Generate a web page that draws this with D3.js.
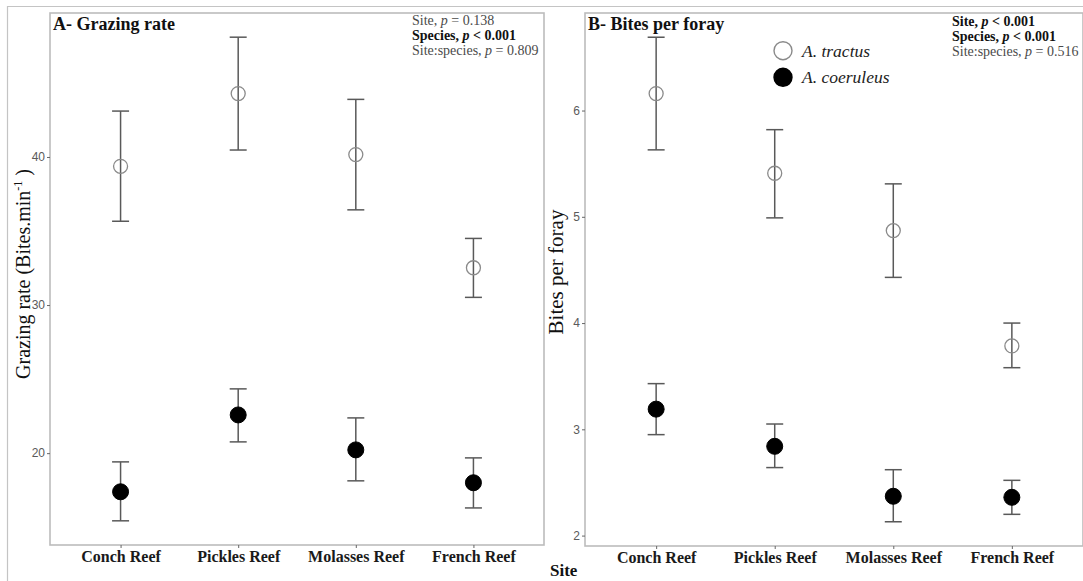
<!DOCTYPE html>
<html>
<head>
<meta charset="utf-8">
<script src="https://cdn.jsdelivr.net/npm/d3@7/dist/d3.min.js"></script>
<style>
  html, body { margin: 0; padding: 0; background: #fff; }
  svg { display: block; }
</style>
</head>
<body>
<svg id="chart" width="1083" height="581"></svg>
<script>
// Sites along the x axis
const sites = ["Conch Reef", "Pickles Reef", "Molasses Reef", "French Reef"];

// Grazing rate (bites per minute): mean, lower and upper bound of the error bar
const grazeTractusMean  = [39.37, 44.28, 40.16, 32.52];
const grazeTractusLow   = [35.66, 40.47, 36.43, 30.52];
const grazeTractusHigh  = [43.10, 48.09, 43.89, 34.50];
const grazeCoerMean     = [17.39, 22.58, 20.22, 18.00];
const grazeCoerLow      = [15.43, 20.76, 18.13, 16.30];
const grazeCoerHigh     = [19.41, 24.34, 22.38, 19.68];

// Bites per foray: mean, lower and upper bound of the error bar
const forayTractusMean  = [6.16, 5.41, 4.87, 3.785];
const forayTractusLow   = [5.63, 4.99, 4.43, 3.58];
const forayTractusHigh  = [6.69, 5.82, 5.31, 4.00];
const forayCoerMean     = [3.19, 2.84, 2.37, 2.36];
const forayCoerLow      = [2.95, 2.64, 2.13, 2.20];
const forayCoerHigh     = [3.43, 3.05, 2.62, 2.52];

const grazeTicks = [20, 30, 40];
const forayTicks = [2, 3, 4, 5, 6];

const speciesNames = ["A. tractus", "A. coeruleus"];

const statsGraze = [
  { label: "Site", op: "= 0.138", bold: false },
  { label: "Species", op: "< 0.001", bold: true },
  { label: "Site:species", op: "= 0.809", bold: false }
];
const statsForay = [
  { label: "Site", op: "< 0.001", bold: true },
  { label: "Species", op: "< 0.001", bold: true },
  { label: "Site:species", op: "= 0.516", bold: false }
];

const svg = d3.select("#chart");
const SERIF = "'Liberation Serif', 'Times New Roman', serif";
const SANS = "'Liberation Sans', Arial, sans-serif";

// Outer frame lines of the figure
svg.append("line").attr("x1", 7).attr("x2", 1083).attr("y1", 6.5).attr("y2", 6.5)
  .attr("stroke", "#c4c4c4").attr("stroke-width", 1.2);
svg.append("line").attr("x1", 7.5).attr("x2", 7.5).attr("y1", 6).attr("y2", 581)
  .attr("stroke", "#c4c4c4").attr("stroke-width", 1.2);

// Data range widened by 5% on each side
function expanded(lo, hi) {
  const mn = d3.min(lo), mx = d3.max(hi), pad = (mx - mn) * 0.05;
  return [mn - pad, mx + pad];
}

function panel(opts) {
  const { left, right, top, bottom } = opts;
  const x = d3.scalePoint().domain(sites).range([left, right]).padding(0.6);
  const y = d3.scaleLinear()
    .domain(expanded(opts.lowAll, opts.highAll))
    .range([bottom, top]);

  const g = svg.append("g");

  // Panel border
  g.append("rect")
    .attr("x", left).attr("y", top)
    .attr("width", right - left).attr("height", bottom - top)
    .attr("fill", "none").attr("stroke", "#bcbcbc").attr("stroke-width", 1.6);

  // Y axis
  const yAxis = d3.axisLeft(y).tickValues(opts.ticks).tickSize(3).tickPadding(2)
    .tickFormat(d3.format("d"));
  const ya = g.append("g").attr("transform", `translate(${left},0)`).call(yAxis);
  ya.select(".domain").remove();
  ya.selectAll(".tick line").attr("stroke", "#666").attr("stroke-width", 1);
  ya.selectAll(".tick text").attr("font-family", SANS).attr("font-size", 12)
    .attr("fill", "#5a5a5a");

  // X axis
  const xAxis = d3.axisBottom(x).tickSize(3).tickPadding(3);
  const xa = g.append("g").attr("transform", `translate(0,${bottom})`).call(xAxis);
  xa.select(".domain").remove();
  xa.selectAll(".tick line").attr("stroke", "#666").attr("stroke-width", 1);
  xa.selectAll(".tick text").attr("font-family", SERIF).attr("font-size", 16)
    .attr("font-weight", "bold").attr("fill", "#1a1a1a");

  // Error bars and points for each species
  const series = [
    { mean: opts.tMean, low: opts.tLow, high: opts.tHigh, open: true },
    { mean: opts.cMean, low: opts.cLow, high: opts.cHigh, open: false }
  ];
  const cap = 8.5;
  series.forEach(s => {
    const rows = sites.map((site, i) => ({ site, m: s.mean[i], lo: s.low[i], hi: s.high[i] }));
    const eb = g.append("g").attr("stroke", "#595959").attr("stroke-width", 1.5);
    eb.selectAll(null).data(rows).join("line")
      .attr("x1", d => x(d.site)).attr("x2", d => x(d.site))
      .attr("y1", d => y(d.lo)).attr("y2", d => y(d.hi));
    eb.selectAll(null).data(rows).join("line")
      .attr("x1", d => x(d.site) - cap).attr("x2", d => x(d.site) + cap)
      .attr("y1", d => y(d.hi)).attr("y2", d => y(d.hi));
    eb.selectAll(null).data(rows).join("line")
      .attr("x1", d => x(d.site) - cap).attr("x2", d => x(d.site) + cap)
      .attr("y1", d => y(d.lo)).attr("y2", d => y(d.lo));
    g.selectAll(null).data(rows).join("circle")
      .attr("cx", d => x(d.site)).attr("cy", d => y(d.m))
      .attr("r", s.open ? 7 : 8)
      .attr("fill", s.open ? "none" : "#000")
      .attr("stroke", s.open ? "#8a8a8a" : "#000")
      .attr("stroke-width", s.open ? 1.3 : 1);
  });

  // Panel title
  g.append("text").attr("x", left + 3).attr("y", top + 17)
    .attr("font-family", SERIF).attr("font-weight", "bold").attr("font-size", 18)
    .attr("fill", "#111").text(opts.title);

  // Model statistics
  const st = g.append("g");
  opts.stats.forEach((s, i) => {
    const t = st.append("text").attr("x", opts.statsX).attr("y", opts.statsY + i * 15)
      .attr("font-family", SERIF).attr("font-size", 14)
      .attr("font-weight", s.bold ? "bold" : "normal")
      .attr("fill", s.bold ? "#111" : "#4a4a4a");
    t.append("tspan").text(s.label + ", ");
    t.append("tspan").attr("font-style", "italic").text("p");
    t.append("tspan").text(" " + s.op);
  });

  return { x, y };
}

panel({
  left: 50, right: 544, top: 13, bottom: 545,
  ticks: grazeTicks, title: "A- Grazing rate",
  tMean: grazeTractusMean, tLow: grazeTractusLow, tHigh: grazeTractusHigh,
  cMean: grazeCoerMean, cLow: grazeCoerLow, cHigh: grazeCoerHigh,
  lowAll: grazeTractusLow.concat(grazeCoerLow),
  highAll: grazeTractusHigh.concat(grazeCoerHigh),
  stats: statsGraze, statsX: 412, statsY: 25
});

panel({
  left: 585, right: 1083, top: 13, bottom: 546,
  ticks: forayTicks, title: "B- Bites per foray",
  tMean: forayTractusMean, tLow: forayTractusLow, tHigh: forayTractusHigh,
  cMean: forayCoerMean, cLow: forayCoerLow, cHigh: forayCoerHigh,
  lowAll: forayTractusLow.concat(forayCoerLow),
  highAll: forayTractusHigh.concat(forayCoerHigh),
  stats: statsForay, statsX: 952, statsY: 26
});

// Y axis titles
const yt = svg.append("text")
  .attr("transform", "translate(30,274) rotate(-90)")
  .attr("text-anchor", "middle")
  .attr("font-family", SERIF).attr("font-size", 20).attr("fill", "#111");
yt.append("tspan").text("Grazing rate (Bites.min");
yt.append("tspan").attr("font-size", 12).attr("dy", -8).text("-1");
yt.append("tspan").attr("dy", 8).text(" )");

svg.append("text")
  .attr("transform", "translate(563,272) rotate(-90)")
  .attr("text-anchor", "middle")
  .attr("font-family", SERIF).attr("font-size", 21).attr("fill", "#111")
  .text("Bites per foray");

// Shared x axis title
svg.append("text").attr("x", 550).attr("y", 576)
  .attr("font-family", SERIF).attr("font-weight", "bold").attr("font-size", 17)
  .attr("fill", "#111").text("Site");

// Legend
const legend = svg.append("g");
speciesNames.forEach((name, i) => {
  const cy = 50.7 + i * 26.6;
  legend.append("circle").attr("cx", 783).attr("cy", cy).attr("r", 9)
    .attr("fill", i === 0 ? "#fff" : "#000")
    .attr("stroke", i === 0 ? "#8a8a8a" : "#000").attr("stroke-width", 1.4);
  legend.append("text").attr("x", 802).attr("y", cy + 6)
    .attr("font-family", SERIF).attr("font-style", "italic").attr("font-size", 17.5)
    .attr("fill", "#222").text(name);
});
</script>
</body>
</html>
